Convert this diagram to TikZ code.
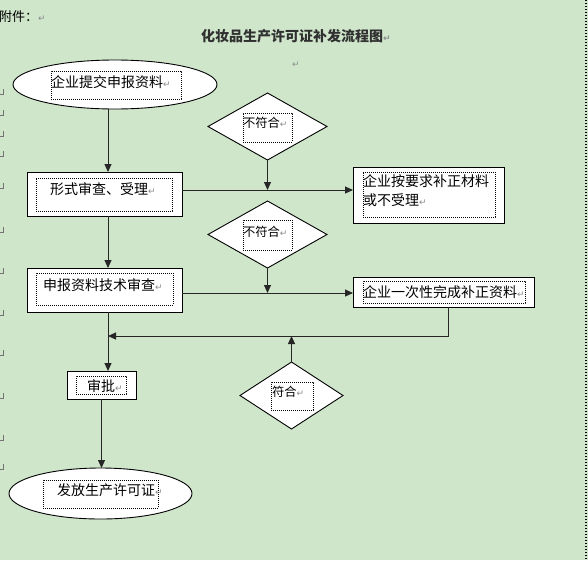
\documentclass[tikz,border=0pt]{standalone}
\usepackage{fontspec}
\setmainfont{Noto Sans CJK SC}
\newfontfamily\dv{DejaVu Sans}
\usetikzlibrary{shapes.geometric,arrows.meta}
\definecolor{bgc}{RGB}{207,230,203}
\definecolor{retc}{RGB}{140,140,140}
\definecolor{titc}{RGB}{48,48,48}
\newcommand\retm{{\dv\fontsize{9}{9}\selectfont\color{retc}↵}}
\begin{document}
\begin{tikzpicture}[x=1pt,y=-1pt,
  every node/.style={inner sep=0pt, outer sep=0pt},
  shp/.style={draw=black, fill=white, line width=0.9pt},
  dfr/.style={draw=black, line width=0.7pt, dash pattern=on 0.9pt off 1.1pt},
  txt/.style={anchor=west, font=\fontsize{14}{16}\selectfont},
  stxt/.style={anchor=west, font=\fontsize{12.3}{14}\selectfont},
  arr/.style={draw=black!85, line width=1pt, -{Triangle[length=8pt,width=7pt]}},
  ln/.style={draw=black!85, line width=1pt},
  mgn/.style={draw=black!55, line width=0.6pt}
]
\useasboundingbox (0,0) rectangle (588,560);
\fill[bgc] (0,0) rectangle (588,560);

% right page edge
\draw[line width=1.1pt, dash pattern=on 1.2pt off 1.8pt] (586,0) -- (586,560);

% left margin marks
\foreach \yy in {92,113,134,154,186,230,271,313,353,396,438,467}
  \draw[mgn] (0,\yy+2) -- (3,\yy+2) -- (3,\yy-3);

% header texts
\node[anchor=west, font=\fontsize{13}{15}\selectfont] (att) at (-1,17) {附件：\retm};
\node[anchor=west, font=\fontsize{14}{16}\selectfont\bfseries, text=titc] (title) at (201,36.5) {化妆品生产许可证补发流程图\retm};
\node (pm) at (296,65) {\retm};

% shapes
\node[shp, ellipse, minimum width=204pt, minimum height=49pt] (e1) at (115,84.5) {};
\node[dfr, minimum width=130pt, minimum height=28pt] (f1) at (116,85) {};
\node[txt] (t1) at (51,82) {企业提交申报资料\retm};

\node[shp, rectangle, minimum width=155pt, minimum height=44pt] (b1) at (104.5,194) {};
\node[dfr, minimum width=136pt, minimum height=33pt] (f2) at (104,194.5) {};
\node[txt] (t2) at (50,189) {形式审查、受理\retm};

\node[shp, rectangle, minimum width=155pt, minimum height=44pt] (b3) at (104.5,290) {};
\node[dfr, minimum width=137pt, minimum height=32pt] (f3) at (104.5,289) {};
\node[txt] (t3) at (43,285) {申报资料技术审查\retm};

\node[shp, rectangle, minimum width=69pt, minimum height=28pt] (b5) at (101.5,385) {};
\node[dfr, minimum width=50pt, minimum height=18pt] (f5) at (101,385) {};
\node[txt] (t5) at (87,386) {审批\retm};

\node[shp, ellipse, minimum width=183pt, minimum height=51pt] (e2) at (100.5,493.5) {};
\node[dfr, minimum width=115pt, minimum height=28pt] (f6) at (100.5,494) {};
\node[txt] (t6) at (57,490) {发放生产许可证\retm};

\node[shp, rectangle, minimum width=151pt, minimum height=56pt] (b2) at (428.5,195) {};
\node[dfr, minimum width=132pt, minimum height=45pt] (f7) at (429,194.5) {};
\node[txt] (t7a) at (363,181.5) {企业按要求补正材料};
\node[txt] (t7b) at (363,200) {或不受理\retm};

\node[shp, rectangle, minimum width=181pt, minimum height=30pt] (b4) at (443.5,292) {};
\node[dfr, minimum width=162pt, minimum height=22pt] (f8) at (444,292) {};
\node[txt] (t8) at (363,292) {企业一次性完成补正资料\retm};

\node[shp, diamond, minimum width=119pt, minimum height=67pt] (d1) at (267.5,126.5) {};
\node[dfr, minimum width=49pt, minimum height=29pt] (f9) at (267.5,127.5) {};
\node[stxt] (t9) at (243,123) {不符合\retm};

\node[shp, diamond, minimum width=119pt, minimum height=67pt] (d2) at (267.5,234.5) {};
\node[dfr, minimum width=49pt, minimum height=30pt] (f10) at (267.5,235) {};
\node[stxt] (t10) at (243,232) {不符合\retm};

\node[shp, diamond, minimum width=103pt, minimum height=67pt] (d3) at (291.5,395.5) {};
\node[dfr, minimum width=42pt, minimum height=28pt] (f11) at (292,396) {};
\node[stxt] (t11) at (272,392) {符合\retm};

% helper coordinates
\coordinate (sp) at (108,0);
\coordinate (r1) at (0,190);
\coordinate (r2) at (0,293);
\coordinate (fb) at (448,336);

% connectors
\draw[arr] (sp |- e1.south) -- (sp |- b1.north);
\draw[arr] (sp |- b1.south) -- (sp |- b3.north);
\draw[arr] (sp |- b3.south) -- (sp |- b5.north);
\draw[arr] (b5.south) -- (b5.south |- e2.north);

\draw[arr] (b1.east |- r1) -- (b2.west |- r1);
\draw[arr] (d1.south) -- (d1.south |- r1);
\draw[arr] (b3.east |- r2) -- (b4.west |- r2);
\draw[arr] (d2.south) -- (d2.south |- r2);

\draw[arr] (fb |- b4.south) -- (fb) -- (sp |- fb);
\draw[arr] (d3.north) -- (d3.north |- fb);
\end{tikzpicture}
\end{document}
